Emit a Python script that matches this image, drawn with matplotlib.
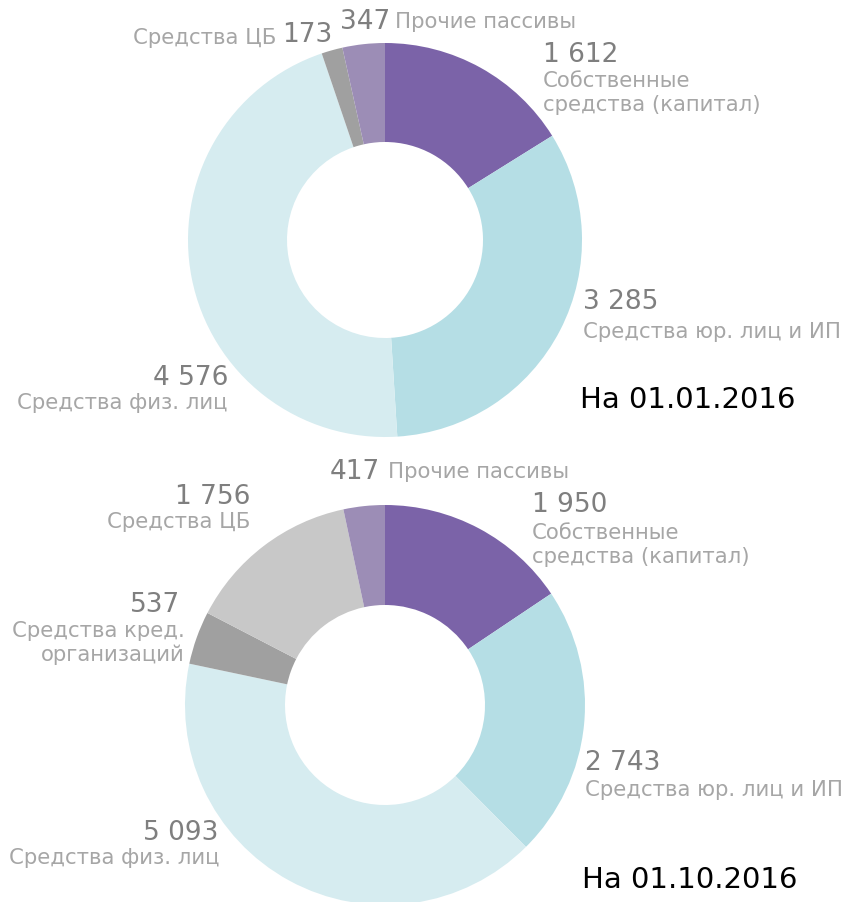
import matplotlib.pyplot as plt

# data
labels_top = ["Собственные\nсредства (капитал)", "Средства юр. лиц и ИП", "Средства физ. лиц",
              "Средства ЦБ", "Прочие пассивы"]
values_top = [1612, 3285, 4576, 173, 347]
colors_top = ["#7B63A8", "#B5DEE5", "#D6ECF0", "#A0A0A0", "#9C8DB6"]

labels_bot = ["Собственные\nсредства (капитал)", "Средства юр. лиц и ИП", "Средства физ. лиц",
              "Средства кред.\nорганизаций", "Средства ЦБ", "Прочие пассивы"]
values_bot = [1950, 2743, 5093, 537, 1756, 417]
colors_bot = ["#7B63A8", "#B5DEE5", "#D6ECF0", "#A0A0A0", "#C8C8C8", "#9C8DB6"]

dates = ["На 01.01.2016", "На 01.10.2016"]

W, H = 845, 902
NUM_C = "#7F7F7F"
LAB_C = "#A6A6A6"
NUM_FS = 19
LAB_FS = 15.3
DATE_FS = 21

def fmt(v):
    return f"{v:,}".replace(",", " ")

def Y(y):
    # image coords -> plot coords
    return H - y

fig = plt.figure(figsize=(W / 100, H / 100), dpi=100)
ax = fig.add_axes([0, 0, 1, 1])

wp = dict(linewidth=0)
ax.pie(values_top, colors=colors_top, center=(385, Y(240)), radius=197,
       startangle=90, counterclock=False, wedgeprops=dict(width=99, **wp))
ax.pie(values_bot, colors=colors_bot, center=(385, Y(705)), radius=200,
       startangle=90, counterclock=False, wedgeprops=dict(width=100, **wp))

def num(x, y, v, ha="left"):
    ax.text(x, Y(y), fmt(v), fontsize=NUM_FS, color=NUM_C, ha=ha, va="center")

def lab(x, y, s, ha="left"):
    ax.text(x, Y(y), s, fontsize=LAB_FS, color=LAB_C, ha=ha, va="center",
            linespacing=1.25)

# top donut labels
num(543, 55, values_top[0]); lab(543, 93, labels_top[0])
num(583, 302, values_top[1]); lab(583, 332, labels_top[1])
num(228, 378, values_top[2], "right"); lab(228, 403, labels_top[2], "right")
lab(276, 38, labels_top[3], "right"); num(282, 35, values_top[3])
num(340, 22, values_top[4]); lab(395, 22, labels_top[4])
ax.text(580, Y(400), dates[0], fontsize=DATE_FS, color="black", ha="left", va="center")

# bottom donut labels
num(532, 505, values_bot[0]); lab(532, 545, labels_bot[0])
num(585, 763, values_bot[1]); lab(585, 790, labels_bot[1])
num(218, 833, values_bot[2], "right"); lab(220, 858, labels_bot[2], "right")
num(180, 605, values_bot[3], "right"); lab(185, 643, labels_bot[3], "right")
num(250, 497, values_bot[4], "right"); lab(250, 522, labels_bot[4], "right")
num(330, 472, values_bot[5]); lab(388, 472, labels_bot[5])
ax.text(582, Y(880), dates[1], fontsize=DATE_FS, color="black", ha="left", va="center")

ax.set_xlim(0, W)
ax.set_ylim(0, H)
ax.set_aspect("equal")
ax.axis("off")

fig.savefig("out.png", dpi=100)
